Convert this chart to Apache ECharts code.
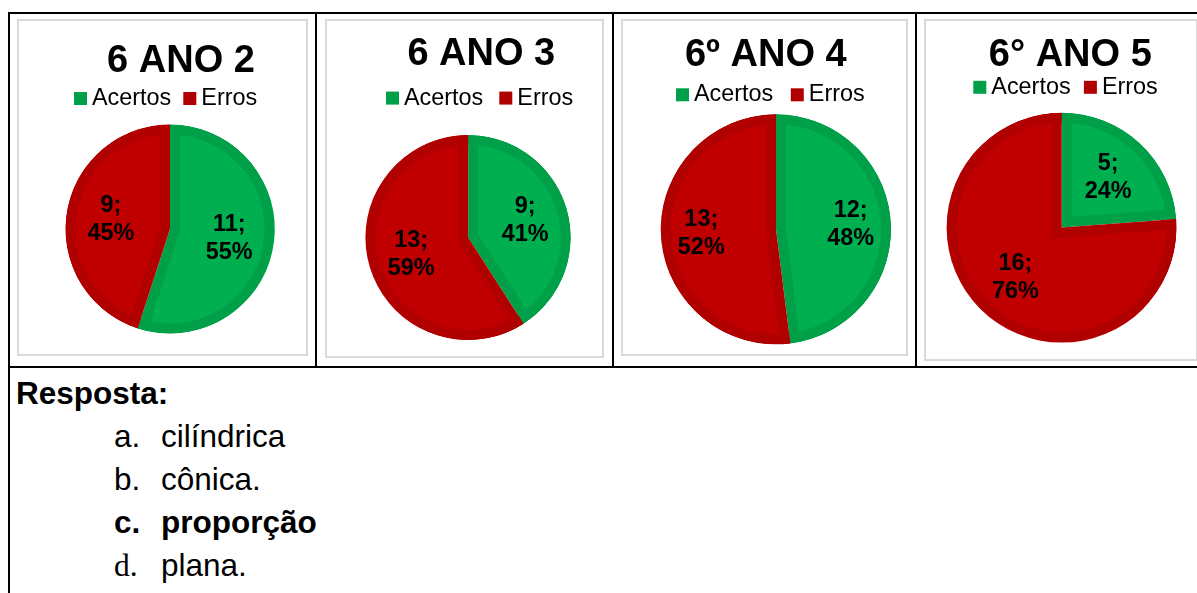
<!DOCTYPE html>
<html><head><meta charset="utf-8">
<script src="https://cdn.jsdelivr.net/npm/echarts@6/dist/echarts.min.js"></script>
<style>
html,body{margin:0;padding:0;background:#fff;width:1197px;height:593px;overflow:hidden;font-family:'Liberation Sans',Arial,sans-serif;}
#chart{position:absolute;left:0;top:0;width:1197px;height:370px;}
.ln{position:absolute;background:#000;}
.box{position:absolute;border:2px solid #d9d9d9;box-sizing:border-box;}
.txt{position:absolute;white-space:nowrap;font-size:31.5px;line-height:43px;color:#000;}
.b{font-weight:bold;}
.serif{font-family:'Liberation Serif','Times New Roman',serif;}
</style></head><body>
<div id="chart"></div>
<!-- chart frames -->
<div class="box" style="left:17px;top:19px;width:291px;height:337px;"></div>
<div class="box" style="left:325px;top:19px;width:279px;height:339px;"></div>
<div class="box" style="left:621px;top:19px;width:287px;height:337px;"></div>
<div class="box" style="left:924px;top:19px;width:274px;height:342px;"></div>
<!-- table lines -->
<div class="ln" style="left:8px;top:12px;width:1189px;height:2px;"></div>
<div class="ln" style="left:8px;top:12px;width:2px;height:581px;"></div>
<div class="ln" style="left:315px;top:12px;width:2px;height:356px;"></div>
<div class="ln" style="left:612px;top:12px;width:2px;height:356px;"></div>
<div class="ln" style="left:915px;top:12px;width:2px;height:356px;"></div>
<div class="ln" style="left:8px;top:366px;width:1189px;height:2px;"></div>
<!-- answer text -->
<div class="txt b" style="left:16px;top:372px;">Resposta:</div>
<div class="txt" style="left:114px;top:415px;">a.</div><div class="txt" style="left:161px;top:415px;">cilíndrica</div>
<div class="txt" style="left:114px;top:458px;">b.</div><div class="txt" style="left:161px;top:458px;">cônica.</div>
<div class="txt b" style="left:114px;top:501px;">c.</div><div class="txt b" style="left:161px;top:501px;">proporção</div>
<div class="txt serif" style="left:114px;top:544px;">d.</div><div class="txt" style="left:161px;top:544px;">plana.</div>
<script>
// ---- data ----
const titles = ['6 ANO 2', '6 ANO 3', '6º ANO 4', '6° ANO 5'];
const categories = ['Acertos', 'Erros'];
const acertos = [11, 9, 12, 5];
const erros = [9, 13, 13, 16];

// ---- style / layout ----
const FONT = "'Liberation Sans', Arial, sans-serif";
const LIGHT = ['#00B050', '#C00000'];
const DARK = ['#00A048', '#B00000'];
const BAND = 10;
const layout = [
  {cx: 170,    cy: 229,   R: 104.5, titleX: 181,    titleTop: 42.7, legendLeft: 74,    legendTop: 87,   gap: 12,   labelK: 0.545},
  {cx: 468.2,  cy: 237.5, R: 102.5, titleX: 481.3,  titleTop: 35.5, legendLeft: 386,   legendTop: 86.6, gap: 16,   labelK: 0.55},
  {cx: 776,    cy: 229.3, R: 115,   titleX: 765.8,  titleTop: 37,   legendLeft: 676,   legendTop: 83.3, gap: 17.5, labelK: 0.625},
  {cx: 1061.7, cy: 227.5, R: 114.8, titleX: 1070.3, titleTop: 37,   legendLeft: 973.3, legendTop: 75.8, gap: 13.3, labelK: 0.568}
];

const series = [];
const titleOpts = [];
const legendOpts = [];

layout.forEach((L, k) => {
  const vals = [acertos[k], erros[k]];
  const total = vals[0] + vals[1];
  const mk = (colors, extra) => categories.map((c, i) => ({name: c, value: vals[i], itemStyle: {color: colors[i]}}));
  const base = {type: 'pie', center: [L.cx, L.cy], startAngle: 90, clockwise: true, silent: true,
    animation: false, label: {show: false}, labelLine: {show: false}, emphasis: {disabled: true}};

  // dark base (band colour)
  series.push(Object.assign({}, base, {radius: [0, L.R], data: mk(DARK), z: 2}));

  // light inner part of each slice, inset by BAND from both radial edges
  let maxOverflow = 0;
  let start = 0;
  vals.forEach((v, i) => {
    const theta = v / total * 2 * Math.PI;
    const half = theta / 2;
    const mid = start + half;
    const d = BAND / Math.sin(half);
    const c = Math.cos(half);
    const inner = L.R - BAND;
    const r = -d * c + Math.sqrt(Math.max(0, d * d * c * c - d * d + inner * inner)) + 1;
    maxOverflow = Math.max(maxOverflow, d + r - L.R);
    const center = [L.cx + d * Math.sin(mid), L.cy - d * Math.cos(mid)];
    const cols = categories.map((_, j) => j === i ? LIGHT[i] : 'rgba(0,0,0,0)');
    series.push(Object.assign({}, base, {center: center, radius: [0, r], data: mk(cols), z: 3}));
    start += theta;
  });

  // dark outer ring
  series.push(Object.assign({}, base, {radius: [L.R - BAND, L.R], data: mk(DARK), z: 4}));
  // white ring hiding overflow of the inset sectors
  if (maxOverflow > 0) {
    series.push(Object.assign({}, base, {radius: [L.R + 0.3, L.R + maxOverflow + 3], data: mk(['#ffffff', '#ffffff']), z: 5}));
  }
  // labels
  series.push(Object.assign({}, base, {
    radius: [0, 2 * L.labelK * L.R], z: 6, percentPrecision: 0,
    data: mk(['rgba(0,0,0,0)', 'rgba(0,0,0,0)']),
    label: {show: true, position: 'inside', color: '#000', fontFamily: FONT, fontSize: 23.4,
      fontWeight: 'bold', lineHeight: 28, formatter: p => p.value + ';\n' + p.percent + '%'}
  }));

  titleOpts.push({text: titles[k], left: L.titleX, top: L.titleTop, textAlign: 'center', padding: 0,
    textStyle: {fontSize: 38, fontWeight: 'bold', color: '#000', fontFamily: FONT}});
  legendOpts.push({left: L.legendLeft, top: L.legendTop, padding: 0, icon: 'rect', itemWidth: 13, itemHeight: 13,
    itemGap: L.gap, selectedMode: false, textStyle: {fontSize: 23.4, color: '#000', fontFamily: FONT},
    data: categories.map((c, i) => ({name: c, itemStyle: {color: DARK[i]}}))});
});

const chart = echarts.init(document.getElementById('chart'), null, {renderer: 'canvas'});
chart.setOption({animation: false, title: titleOpts, legend: legendOpts, series: series});
</script>
</body></html>
